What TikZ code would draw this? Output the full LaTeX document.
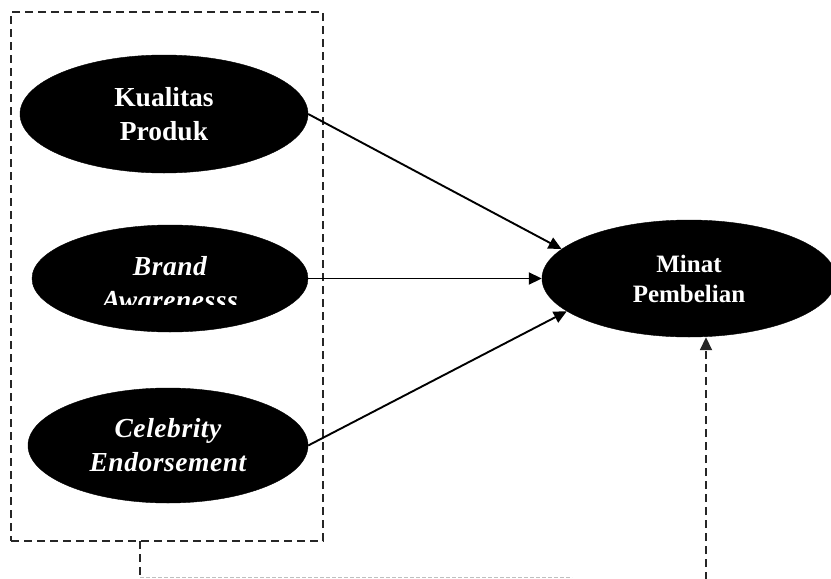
\documentclass[tikz,border=0pt]{standalone}
\usepackage{fontspec}
\setmainfont{Liberation Serif}
\usetikzlibrary{shapes.geometric,arrows.meta}
\newcommand\itsp{\itshape\addfontfeatures{LetterSpace=2}}
\begin{document}
\begin{tikzpicture}[x=1pt,y=-1pt,
  latent/.style={ellipse,fill=black,draw=black,inner sep=0pt,text=white,align=center},
  bigtxt/.style={font=\fontsize{27.5}{34}\selectfont\bfseries},
  midtxt/.style={font=\fontsize{25}{30}\selectfont\bfseries},
  grp/.style={draw=black!85,line width=1.8pt,dash pattern=on 8pt off 5pt},
  faint/.style={draw=black!25,line width=1pt,dash pattern=on 4pt off 2pt},
  link/.style={line width=1.9pt,-{Triangle[length=13pt,width=12pt]}}]
\useasboundingbox (0,0) rectangle (831,579);
% grouping box
\node[grp,rectangle,minimum width=312pt,minimum height=529pt,inner sep=0pt] (box) at (167,276.5) {};
% latent variables
\node[latent,bigtxt,minimum width=288pt,minimum height=118pt] (kp) at (164,114) {Kualitas\\Produk};
\node[latent,minimum width=276pt,minimum height=107pt] (ba) at (170,278.5) {};
\begin{scope}
  \clip (40,230) rectangle (300,304.5);
  \node[text=white,align=center,bigtxt,inner sep=0pt] (batext) at (170,283) {\itsp Brand\\\itsp Awarenesss};
\end{scope}
\node[latent,bigtxt,minimum width=280pt,minimum height=115pt] (ce) at (168,445.5) {\itsp Celebrity\\\itsp Endorsement};
\node[latent,midtxt,minimum width=294pt,minimum height=117pt] (mp) at (689,278.5) {Minat\\Pembelian};
% paths
\draw[link] (kp.east) -- (mp.167);
\draw[link] (ba.east) -- (mp.west);
\draw[link] (ce.east) -- (mp.195);
% bottom connector
\coordinate (s1) at (140,541);
\coordinate (s2) at (140,577.5);
\coordinate (s3) at (572,577.5);
\coordinate (bt) at (706,580);
\draw[grp] (s1) -- (s2);
\draw[faint] (s2) -- (s3);
\draw[grp,-{Triangle[length=13pt,width=12pt]}] (bt) -- (bt |- mp.south);
\end{tikzpicture}
\end{document}
